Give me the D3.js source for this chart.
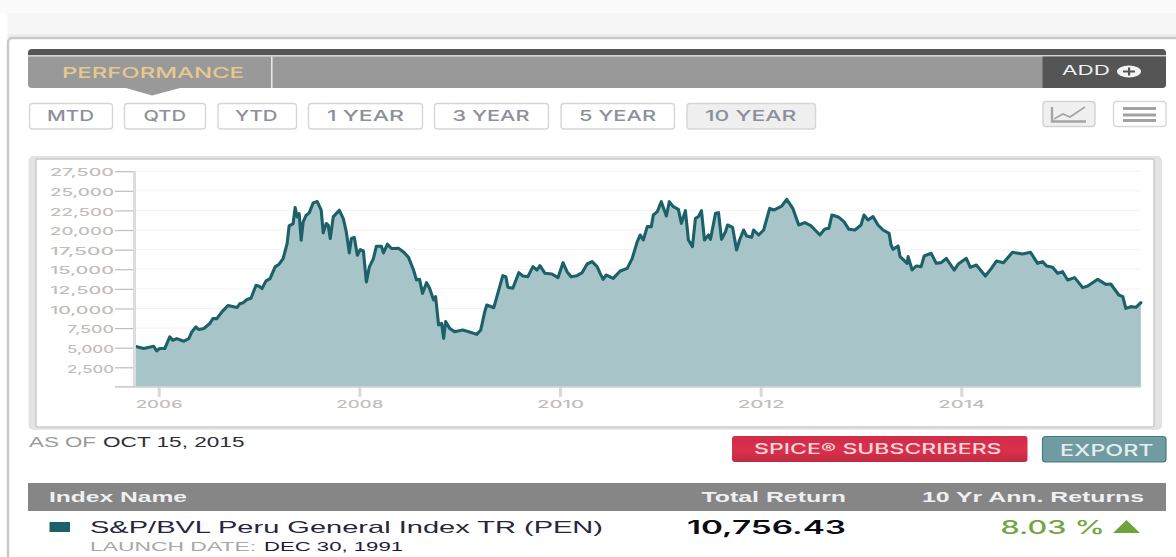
<!DOCTYPE html>
<html>
<head>
<meta charset="utf-8">
<title>S&amp;P/BVL Peru General Index TR (PEN)</title>
<script src="https://cdn.jsdelivr.net/npm/d3@7"></script>
<style>
  html, body { margin: 0; padding: 0; background: #fff; overflow: hidden; }
  svg { display: block; }
</style>
</head>
<body>
<svg id="page" width="1176" height="557"></svg>
<script>
// Index history: decimal year and index level, kept as parallel lists.
const sampleYears = [
  2005.764,2005.85,2005.95,2005.98,2006.01,2006.06,2006.11,2006.14,2006.18,2006.25,
  2006.30,2006.33,2006.37,2006.40,2006.45,2006.51,2006.54,2006.58,2006.63,2006.69,
  2006.78,2006.81,2006.84,2006.88,2006.92,2006.97,2007.00,2007.03,2007.07,2007.11,
  2007.16,2007.20,2007.24,2007.28,2007.30,2007.34,2007.36,2007.38,2007.40,2007.42,
  2007.44,2007.47,2007.50,2007.54,2007.58,2007.62,2007.64,2007.67,2007.69,2007.71,
  2007.74,2007.80,2007.84,2007.87,2007.90,2007.92,2007.95,2007.98,2008.01,2008.04,
  2008.07,2008.10,2008.14,2008.17,2008.22,2008.24,2008.28,2008.32,2008.39,2008.44,
  2008.49,2008.54,2008.57,2008.60,2008.63,2008.67,2008.70,2008.74,2008.76,2008.79,
  2008.82,2008.84,2008.86,2008.90,2008.95,2009.03,2009.09,2009.17,2009.21,2009.25,
  2009.27,2009.34,2009.38,2009.43,2009.46,2009.48,2009.53,2009.59,2009.63,2009.68,
  2009.73,2009.77,2009.80,2009.85,2009.92,2009.98,2010.03,2010.07,2010.11,2010.17,
  2010.22,2010.27,2010.32,2010.37,2010.40,2010.43,2010.46,2010.53,2010.60,2010.67,
  2010.72,2010.77,2010.80,2010.83,2010.87,2010.91,2010.93,2010.97,2011.01,2011.06,
  2011.09,2011.13,2011.18,2011.21,2011.25,2011.28,2011.32,2011.35,2011.38,2011.41,
  2011.44,2011.48,2011.50,2011.55,2011.58,2011.61,2011.65,2011.67,2011.72,2011.76,
  2011.79,2011.83,2011.86,2011.91,2011.93,2011.98,2012.03,2012.09,2012.13,2012.21,
  2012.26,2012.32,2012.38,2012.44,2012.50,2012.59,2012.64,2012.68,2012.71,2012.78,
  2012.83,2012.88,2012.94,2013.00,2013.03,2013.07,2013.12,2013.17,2013.22,2013.28,
  2013.30,2013.32,2013.37,2013.39,2013.46,2013.47,2013.51,2013.55,2013.60,2013.63,
  2013.70,2013.75,2013.80,2013.85,2013.93,2013.97,2014.05,2014.09,2014.15,2014.24,
  2014.30,2014.35,2014.42,2014.51,2014.61,2014.69,2014.76,2014.81,2014.85,2014.91,
  2014.96,2015.01,2015.06,2015.13,2015.21,2015.26,2015.36,2015.44,2015.49,2015.57,
  2015.61,2015.64,2015.69,2015.74,2015.79
];
const indexLevels = [
  5185,4890,5185,4590,4890,4890,6375,5950,6160,5820,
  6160,7010,7650,7310,7440,8075,8710,8710,9560,10370,
  10115,10625,10710,11135,11305,12960,12835,12540,13515,13810,
  15300,15640,16360,18275,20530,20825,22865,21675,22100,18700,
  21040,21890,22185,23460,23630,22525,19635,20825,20610,18910,
  21675,22525,21460,19760,17085,18910,19040,16790,17510,17340,
  13390,15300,16360,17935,17935,17085,18190,17640,17680,17210,
  16520,14900,13630,13715,11930,13290,12570,11080,11505,7890,
  8105,6190,8320,7465,7040,7255,7040,6700,7255,9590,
  10440,10100,11930,14180,14055,12695,12570,14565,14140,14055,
  15330,14900,15455,14480,14395,13930,15840,14690,14055,14180,
  14565,15670,15965,15330,14480,13715,14265,13840,14775,15115,
  16390,18515,19365,18730,20430,20430,21915,22340,23615,21790,
  23615,22975,22635,20855,22465,18730,17880,21490,21705,22465,
  18730,19365,18815,22125,22210,18815,19790,20640,20345,17455,
  18730,20005,19240,19070,20005,19365,20005,22765,22550,23060,
  23910,22765,20640,20940,20555,19365,20130,20215,21915,21620,
  21065,20090,20005,20640,21915,21280,21705,20640,20005,19580,
  18090,17540,17965,16605,15755,16605,14900,15415,15330,16690,
  17030,15755,15840,16390,14900,15670,16390,15245,15540,14140,
  15115,16050,15840,17155,16945,17155,15755,15965,15415,15245,
  14480,14690,13630,13930,12655,12865,13715,13075,13120,11720,
  11505,10015,10230,10145,10756.43
];

const yTickValues = [2500,5000,7500,10000,12500,15000,17500,20000,22500,25000,27500];
const xTickYears = [2006,2008,2010,2012,2014];
const rangeLabels = ["MTD","QTD","YTD","1 YEAR","3 YEAR","5 YEAR","10 YEAR"];
const activeRange = "10 YEAR";

const seriesName = "S&P/BVL Peru General Index TR (PEN)";
const launchDate = "DEC 30, 1991";
const asOfDate = "OCT 15, 2015";
const totalReturn = "10,756.43";
const annualReturn = "8.03 %";

// Box edges and text spans of the range buttons, in label order.
const rangeBoxes = [[29,113],[124,206],[217.5,297],[308,423],[434,549],[560.5,675],[686.5,816]];
const rangeTextSpans = [[47,94],[143.5,186],[235,277.5],[327,404],[452.5,529.5],[579,656],[705,796.5]];

const TEAL = "#1c6169", AREA = "#a7c4c8";
const SANS = "'Liberation Sans', Arial, sans-serif";
const TECH = "Inter, 'DejaVu Sans', sans-serif";

const svg = d3.select("#page");

// Text squeezed or stretched to fill an exact horizontal span.
function label(x0, x1, baseline, str, size, fill, family = TECH, weight = 400) {
  return svg.append("text")
    .attr("x", x0).attr("y", baseline)
    .attr("textLength", x1 - x0).attr("lengthAdjust", "spacingAndGlyphs")
    .attr("font-family", family).attr("font-size", size)
    .attr("font-weight", weight).attr("fill", fill)
    .text(str);
}
function box(x, y, w, h, fill, extra = {}) {
  const r = svg.append("rect").attr("x", x).attr("y", y).attr("width", w).attr("height", h).attr("fill", fill);
  Object.entries(extra).forEach(([k, v]) => r.attr(k, v));
  return r;
}

// Page backdrop and outer panel
box(7.5, 13, 1169, 21, "#f6f6f6");
box(7.5, 34, 1169, 4, "#ececec");
box(8, 38, 1180, 530, "#fff", { rx: 4, stroke: "#c9c9c9", "stroke-width": 2.5 });
box(0, 0, 1176, 13, "#fbfbfb");

// Header bar with the tab and the ADD control
svg.append("path").attr("fill", "#555")
  .attr("d", "M28 55V53a4 4 0 0 1 4-4H1162a4 4 0 0 1 4 4V55Z");
box(28, 55, 1138, 1.5, "#cfcfcf");
svg.append("path").attr("fill", "#999")
  .attr("d", "M28 56.5H1166V84a4 4 0 0 1-4 4H32a4 4 0 0 1-4-4Z");
svg.append("path").attr("fill", "#999").attr("d", "M126 88H180L152 95.5Z");
box(271, 56.5, 1.6, 31.5, "#e8e8e8");
label(62, 244, 77.5, "PERFORMANCE", 15, "#e6c98f", TECH, 500);
svg.append("path").attr("fill", "#555")
  .attr("d", "M1042.5 56.5H1166V84a4 4 0 0 1-4 4H1042.5Z");
label(1062, 1110, 75, "ADD", 13.5, "#eef2f5");
svg.append("ellipse").attr("cx", 1129).attr("cy", 71.5).attr("rx", 12).attr("ry", 6).attr("fill", "#f4f4f4");
box(1123, 70.5, 12, 2, "#555");
box(1128, 67.5, 2.2, 8, "#555");

// Range buttons
rangeLabels.forEach((name, i) => {
  const [x0, x1] = rangeBoxes[i], [t0, t1] = rangeTextSpans[i];
  const on = name === activeRange;
  box(x0 + .5, 103.5, x1 - x0 - 1, 25.5, on ? "#f0efef" : "#fff", { rx: 3, stroke: "#d6d6d6", "stroke-width": 1.4 });
  label(t0, t1, 120.5, name, 15, "#8b909a", TECH, 500);
});

// View switches: chart and table
box(1043, 101.5, 52, 25, "#f0f0f0", { rx: 3, stroke: "#d2d2d2", "stroke-width": 1.4 });
svg.append("path").attr("fill", "none").attr("stroke", "#a4a4a4").attr("stroke-width", 2.4)
  .attr("d", "M1052 107V121.5H1086");
svg.append("path").attr("fill", "none").attr("stroke", "#a4a4a4").attr("stroke-width", 1.6)
  .attr("d", "M1054 119L1063 114L1070 117L1085 107");
box(1113.5, 101.5, 52.5, 25, "#fff", { rx: 3, stroke: "#d8d8d8", "stroke-width": 1.4 });
[107, 113.5, 119].forEach(y => box(1123, y, 33, 3, "#a2a2a2"));

// Chart frame
box(28.5, 156, 1133.5, 274, "#e3e3e3", { rx: 5 });
box(36, 159, 1118, 268, "#fff", { rx: 2, stroke: "#cbcbcb", "stroke-width": 1.5 });

// Scales
const x = d3.scaleLinear().domain([2006, 2014]).range([158.7, 961.3]);
const y = d3.scaleLinear().domain([0, 27500]).range([386.9, 171.2]);
const points = sampleYears.map((yr, i) => ({ yr, v: indexLevels[i] }));
const plotRight = x(sampleYears[sampleYears.length - 1]);

// Horizontal gridlines and left axis
const yAxis = d3.axisLeft(y).tickValues(yTickValues).tickSize(20).tickPadding(1)
  .tickFormat(d3.format(","));
const yG = svg.append("g").attr("transform", "translate(135,0)").call(yAxis);
yG.select(".domain").remove();
yG.selectAll("line").attr("stroke", "#bdbdbd").attr("stroke-width", 1.2);
yG.selectAll("text").attr("font-family", TECH).attr("font-size", 10.5).attr("font-weight", 500)
  .attr("fill", "#c2bdba").attr("dy", "0.45em")
  .attr("textLength", d => d >= 10000 ? 64 : 47).attr("lengthAdjust", "spacingAndGlyphs");

svg.append("g").selectAll("line").data(yTickValues).join("line")
  .attr("x1", 135).attr("x2", plotRight)
  .attr("y1", d => y(d)).attr("y2", d => y(d))
  .attr("stroke", "#f3f3f3").attr("stroke-width", 1);

// Filled area and the index line on top
svg.append("path").datum(points).attr("fill", AREA)
  .attr("d", d3.area().x(d => x(d.yr)).y0(y(0)).y1(d => y(d.v)));
svg.append("path").datum(points)
  .attr("fill", "none").attr("stroke", TEAL).attr("stroke-width", 3.1)
  .attr("stroke-linejoin", "round").attr("stroke-linecap", "round")
  .attr("d", d3.line().x(d => x(d.yr)).y(d => y(d.v)));

box(133, 171, 3, 216, "#dcdcdc");

// Bottom axis
const xAxis = d3.axisBottom(x).tickValues(xTickYears).tickSize(10).tickPadding(4).tickFormat(d3.format("d"));
const xG = svg.append("g").attr("transform", `translate(0,${y(0)})`).call(xAxis);
xG.select(".domain").remove();
xG.selectAll("line").attr("stroke", "#d8d8d8").attr("stroke-width", 3);
xG.selectAll("text").attr("font-family", TECH).attr("font-size", 10.5).attr("font-weight", 500)
  .attr("fill", "#c2bdba")
  .attr("textLength", 47).attr("lengthAdjust", "spacingAndGlyphs");
svg.append("line").attr("x1", 115).attr("x2", plotRight).attr("y1", y(0)).attr("y2", y(0))
  .attr("stroke", "#cfcfcf").attr("stroke-width", 1.6);

// Date stamp and action buttons
label(29, 96, 447, "AS OF", 14, "#9a9a9a", SANS);
label(103, 244.5, 447, asOfDate, 14, "#2e2e33", SANS);

const defs = svg.append("defs");
const red = defs.append("linearGradient").attr("id", "redBtn").attr("x2", 0).attr("y2", 1);
red.append("stop").attr("offset", 0).attr("stop-color", "#cf2c48");
red.append("stop").attr("offset", .55).attr("stop-color", "#dc2f4e");
red.append("stop").attr("offset", 1).attr("stop-color", "#bd2c42");
box(732, 436, 295.5, 26, "url(#redBtn)", { rx: 3 });
label(754, 1001.5, 454, "SPICE\u00AE SUBSCRIBERS", 14.5, "#f4d6da", TECH, 500);
box(1042.5, 436.5, 123.5, 25.5, "#6f9ba1", { rx: 3, stroke: "#3f7d85", "stroke-width": 1.2 });
label(1060, 1153.5, 456, "EXPORT", 16, "#e4eeee", TECH, 500);

// Results table
box(28, 483, 1138, 28, "#868686");
label(49, 187, 502, "Index Name", 15, "#eef0f2", SANS, 700);
label(701.5, 846, 502, "Total Return", 15, "#eef0f2", SANS, 700);
label(922, 1144, 502, "10 Yr Ann. Returns", 15, "#eef0f2", SANS, 700);

box(49.5, 522, 20.5, 10, TEAL);
label(90, 603, 533, seriesName, 17, "#26263c", SANS);
label(90, 256, 551, "LAUNCH DATE:", 13.5, "#a8a8a8", SANS);
label(264, 403, 551, launchDate, 13.5, "#241a3a", SANS);
label(687, 846, 534, totalReturn, 18, "#0c0c14", TECH, 600);
label(1000.5, 1105, 534, annualReturn, 18, "#72a643", TECH, 500);
svg.append("path").attr("fill", "#6fa33c").attr("d", "M1113 533L1126.5 520L1140 533Z");
</script>
</body>
</html>
